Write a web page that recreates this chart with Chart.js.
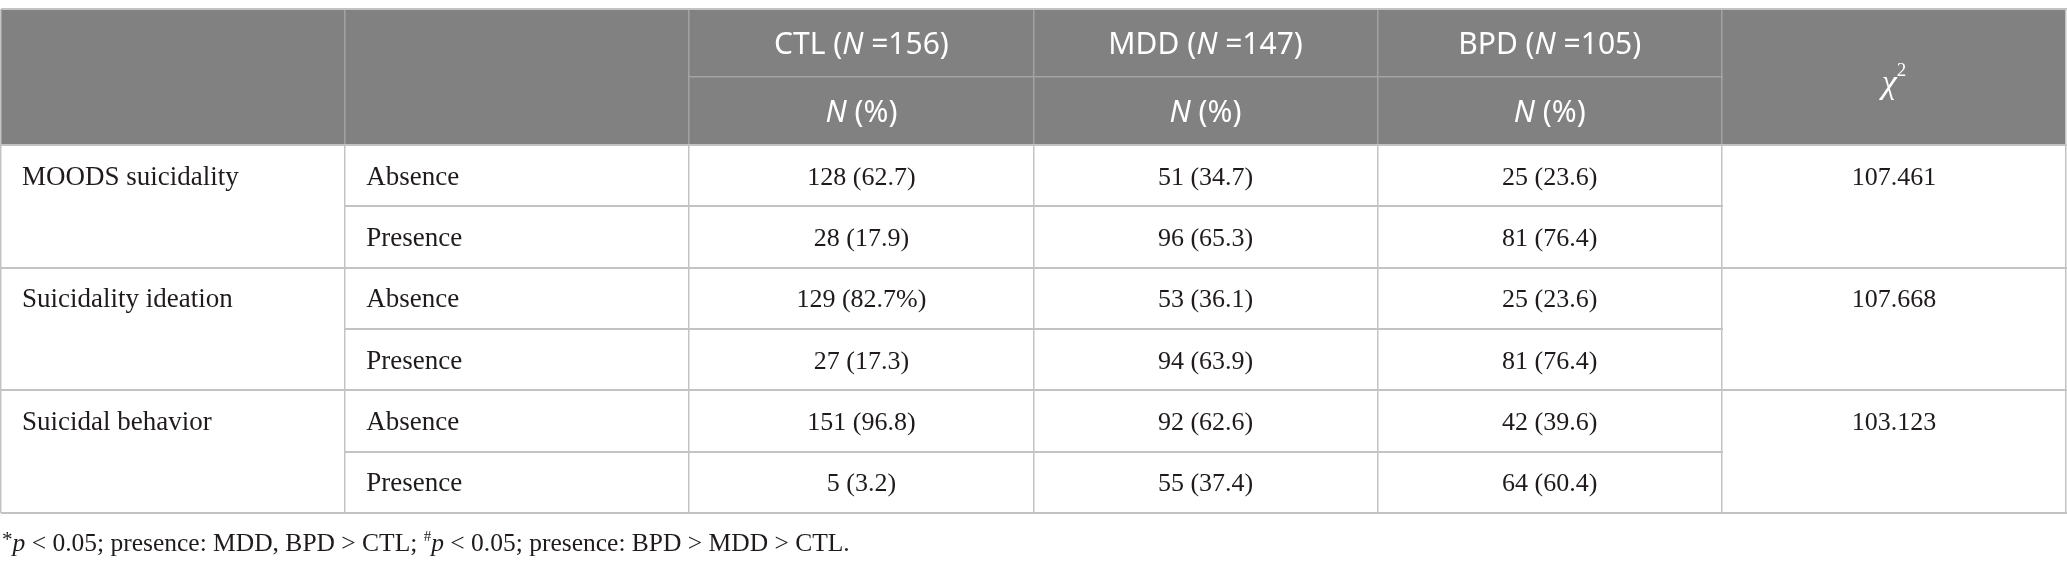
<!DOCTYPE html>
<html>
<head>
<meta charset="utf-8">
<script src="https://cdn.jsdelivr.net/npm/chart.js@4"></script>
<style>
  html, body { margin: 0; padding: 0; background: #ffffff; }
  #chart { display: block; }
</style>
</head>
<body>
<canvas id="chart" width="2067" height="572"></canvas>
<script>
// table contents
const groups = ["CTL", "MDD", "BPD"]
const groupN = [156, 147, 105]
const measures = ["MOODS suicidality", "Suicidality ideation", "Suicidal behavior"]
const levels = ["Absence", "Presence"]

// one entry per body row: measure x level
const ctlCount = [128, 28, 129, 27, 151, 5]
const ctlPct = ["62.7", "17.9", "82.7%", "17.3", "96.8", "3.2"]
const mddCount = [51, 96, 53, 94, 92, 55]
const mddPct = ["34.7", "65.3", "36.1", "63.9", "62.6", "37.4"]
const bpdCount = [25, 81, 25, 81, 42, 64]
const bpdPct = ["23.6", "76.4", "23.6", "76.4", "39.6", "60.4"]
const chiSq = [107.461, 107.668, 103.123]

// layout (rows in units: two header rows, six body rows)
const rowUnits = [1.11, 1.11, 1, 1, 1, 1, 1, 1]
const yEdges = [0]
rowUnits.forEach(u => yEdges.push(yEdges[yEdges.length - 1] + u))

const headerBg = "#808180"
const lineColor = "#c3c3c3"
const headLine = "#a3a3a3"
const textColor = "#1f1b1c"
const serif = '"Liberation Serif", "DejaVu Serif", serif'
const sans = '"Noto Sans", "Open Sans", sans-serif'

const counts = [ctlCount, mddCount, bpdCount]
const pcts = [ctlPct, mddPct, bpdPct]

// draw a list of [text, font, dy] runs, aligned at x
function drawRuns(ctx, runs, x, y, align) {
    let total = 0
    runs.forEach(r => { ctx.font = r[1]; total += ctx.measureText(r[0]).width })
    let cx = align == "center" ? x - total / 2 : x
    ctx.textAlign = "left"
    runs.forEach(r => {
        ctx.font = r[1]
        ctx.fillText(r[0], cx, y + (r[2] || 0))
        cx += ctx.measureText(r[0]).width
    })
}

const tablePlugin = {
    id: "table",
    beforeDraw(chart) {
        const ctx = chart.ctx
        const xs = chart.scales.x
        const ys = chart.scales.y
        const px = v => Math.round(xs.getPixelForValue(v))
        const py = v => Math.round(ys.getPixelForValue(v))
        const hline = (c0, c1, r, col, w) => {
            ctx.fillStyle = col
            ctx.fillRect(px(c0), py(r) - 1, px(c1) - px(c0) + 1, w)
        }
        const vline = (c, r0, r1, col) => {
            ctx.fillStyle = col
            ctx.fillRect(px(c) - 1, py(r0), 1.5, py(r1) - py(r0))
        }

        ctx.save()
        // header background
        ctx.fillStyle = headerBg
        ctx.fillRect(px(0), py(yEdges[0]), px(6) - px(0), py(yEdges[2]) - py(yEdges[0]))

        // header lines
        hline(2, 5, yEdges[1], headLine, 1.5)
        ;[1, 2, 3, 4, 5].forEach(c => vline(c, yEdges[0], yEdges[2], headLine))
        // body lines
        ;[0, 1, 2, 3, 4, 5, 6].forEach(c => vline(c, yEdges[2], yEdges[8], lineColor))
        vline(0, yEdges[0], yEdges[2], lineColor)
        vline(6, yEdges[0], yEdges[2], lineColor)
        hline(0, 6, yEdges[0], lineColor, 2)
        hline(0, 6, yEdges[2], lineColor, 2)
        for (let m = 0; m < measures.length; m++) {
            hline(1, 5, yEdges[3 + m * 2], lineColor, 2)
            hline(0, 6, yEdges[4 + m * 2], lineColor, 2)
        }

        // header text
        ctx.fillStyle = "#ffffff"
        ctx.textBaseline = "middle"
        const hf = "30px " + sans
        const hfi = "italic 30px " + sans
        groups.forEach((g, i) => {
            const cx = xs.getPixelForValue(2.5 + i)
            const y1 = (ys.getPixelForValue(yEdges[0]) + ys.getPixelForValue(yEdges[1])) / 2 + 2
            const y2 = (ys.getPixelForValue(yEdges[1]) + ys.getPixelForValue(yEdges[2])) / 2 + 2
            drawRuns(ctx, [[g + " (", hf], ["N", hfi], [" =" + groupN[i] + ")", hf]], cx, y1, "center")
            drawRuns(ctx, [["N", hfi], [" (%)", hf]], cx, y2, "center")
        })
        const chiY = (ys.getPixelForValue(yEdges[0]) + ys.getPixelForValue(yEdges[2])) / 2 + 7
        drawRuns(ctx, [["χ", "italic 34px " + serif], ["2", "19px " + serif, -13]],
            xs.getPixelForValue(5.5), chiY, "center")

        // body text
        ctx.fillStyle = textColor
        const bf = "26px " + serif
        const lf = "27px " + serif
        const rowMid = r => (ys.getPixelForValue(yEdges[2 + r]) + ys.getPixelForValue(yEdges[3 + r])) / 2 + 2
        measures.forEach((m, mi) => {
            ctx.font = lf
            ctx.textAlign = "left"
            ctx.fillText(m, xs.getPixelForValue(0) + 21, rowMid(mi * 2))
            ctx.font = bf
            ctx.textAlign = "center"
            ctx.fillText(chiSq[mi].toFixed(3), xs.getPixelForValue(5.5), rowMid(mi * 2))
        })
        for (let r = 0; r < ctlCount.length; r++) {
            ctx.font = lf
            ctx.textAlign = "left"
            ctx.fillText(levels[r % 2], xs.getPixelForValue(1) + 21, rowMid(r))
            ctx.font = bf
            ctx.textAlign = "center"
            counts.forEach((arr, gi) => {
                ctx.fillText(arr[r] + " (" + pcts[gi][r] + ")", xs.getPixelForValue(2.5 + gi), rowMid(r))
            })
        }

        // footnote
        const fy = ys.getPixelForValue(yEdges[8]) + 31
        const ff = "25.5px " + serif
        const fi = "italic 25.5px " + serif
        drawRuns(ctx, [
            ["*", "21px " + serif, -4], ["p", fi], [" < 0.05; presence: MDD, BPD > CTL; ", ff],
            ["#", "15px " + serif, -7], ["p", fi], [" < 0.05; presence: BPD > MDD > CTL.", ff]
        ], xs.getPixelForValue(0) + 1, fy, "left")
        ctx.restore()
    }
}

new Chart(document.getElementById("chart"), {
    type: "scatter",
    data: { datasets: [{ data: [], pointRadius: 0 }] },
    options: {
        responsive: false,
        animation: false,
        devicePixelRatio: 1,
        layout: { padding: { left: 1, right: 1, top: 9, bottom: 59 } },
        plugins: { legend: { display: false }, tooltip: { enabled: false } },
        scales: {
            x: { type: "linear", min: 0, max: 6, display: false },
            y: { type: "linear", min: 0, max: yEdges[yEdges.length - 1], reverse: true, display: false }
        }
    },
    plugins: [tablePlugin]
})
</script>
</body>
</html>
